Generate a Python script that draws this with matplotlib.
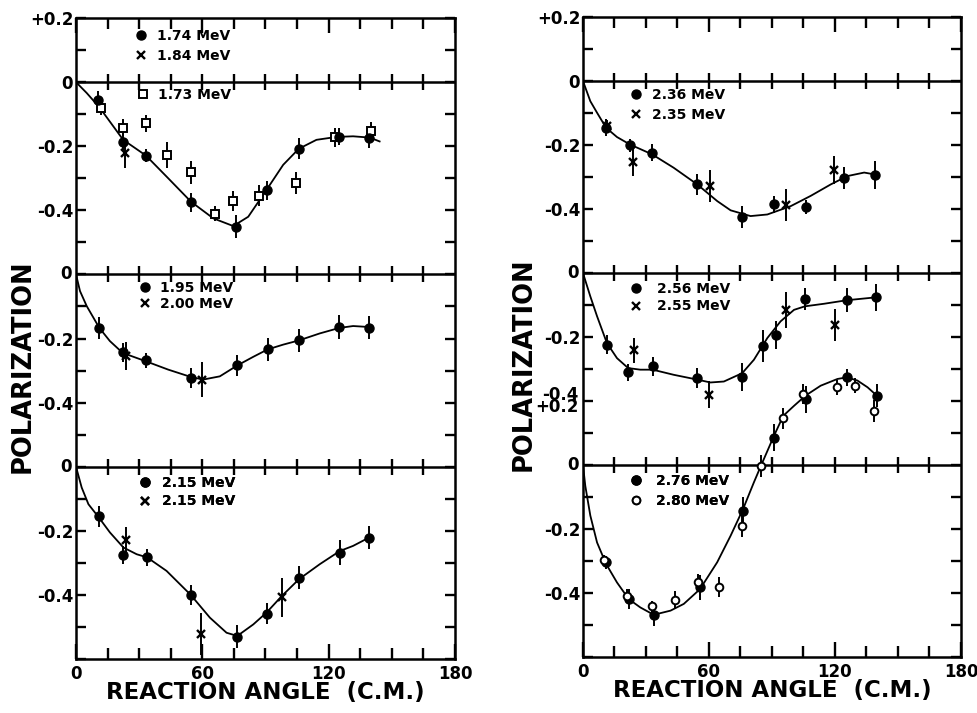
"""Polarization vs reaction angle (c.m.) -- stacked panels, two columns."""

import matplotlib

matplotlib.use("Agg")
import matplotlib.pyplot as plt  # noqa: E402
from matplotlib.lines import Line2D  # noqa: E402
from matplotlib.ticker import FixedLocator, FixedFormatter, MultipleLocator  # noqa: E402

plt.rcParams["font.family"] = ["DejaVu Sans"]
plt.rcParams["font.weight"] = "bold"

# ---------------------------------------------------------------- data
# angle in degrees (c.m.), polarization, half error bar

# left column, top panel
E174_ANG = [10.3, 22.2, 33.2, 54.6, 75.9, 90.5, 105.8, 125.0, 139.2]
E174_POL = [-0.055, -0.188, -0.229, -0.375, -0.451, -0.337, -0.208, -0.170, -0.173]
E174_ERR = [0.028, 0.025, 0.020, 0.030, 0.036, 0.030, 0.033, 0.026, 0.034]

E184_ANG = [23.3]
E184_POL = [-0.222]
E184_ERR = [0.045]

E173_ANG = [11.9, 22.1, 33.2, 43.3, 54.6, 66.0, 74.7, 87.0, 104.7, 122.9, 140.3]
E173_POL = [-0.081, -0.142, -0.129, -0.227, -0.281, -0.410, -0.371, -0.354, -0.314, -0.172, -0.154]
E173_ERR = [0.023, 0.026, 0.026, 0.040, 0.036, 0.023, 0.031, 0.034, 0.034, 0.029, 0.031]

FIT_A_ANG = [0, 5.1, 11.4, 22.4, 33.2, 43.8, 54.6, 65.2, 74.7, 81.8, 90.5, 98.4, 105.8,
             114.2, 123.7, 131.6, 139.5, 144.2]
FIT_A_POL = [0, -0.034, -0.081, -0.180, -0.229, -0.300, -0.373, -0.425, -0.449, -0.420,
             -0.336, -0.258, -0.208, -0.180, -0.171, -0.169, -0.173, -0.185]

# left column, middle panel
E195_ANG = [11.1, 22.2, 33.2, 54.6, 76.6, 91.0, 105.8, 125.0, 139.2]
E195_POL = [-0.167, -0.243, -0.268, -0.323, -0.284, -0.234, -0.206, -0.165, -0.167]
E195_ERR = [0.034, 0.030, 0.023, 0.030, 0.034, 0.036, 0.035, 0.037, 0.036]

E200_ANG = [23.8, 60.0]
E200_POL = [-0.255, -0.328]
E200_ERR = [0.044, 0.055]

FIT_B_ANG = [0, 1.9, 5.1, 11.1, 16.1, 22.2, 33.2, 43.8, 54.6, 60.4, 68.3, 76.6, 84.2,
             91.0, 98.4, 105.8, 115.8, 125.0, 131.6, 139.2]
FIT_B_POL = [0, -0.052, -0.099, -0.167, -0.208, -0.245, -0.271, -0.297, -0.320, -0.328,
             -0.318, -0.284, -0.257, -0.234, -0.219, -0.206, -0.184, -0.167, -0.161, -0.164]

# left column, bottom panel
E215_ANG = [10.8, 22.5, 33.8, 54.5, 76.6, 90.5, 105.9, 125.3, 139.2]
E215_POL = [-0.155, -0.275, -0.283, -0.400, -0.531, -0.458, -0.346, -0.268, -0.221]
E215_ERR = [0.034, 0.029, 0.026, 0.032, 0.036, 0.034, 0.036, 0.038, 0.035]

E215X_ANG = [23.8, 59.6, 97.8]
E215X_POL = [-0.229, -0.521, -0.408]
E215X_ERR = [0.040, 0.065, 0.062]

FIT_C_ANG = [0, 2.7, 5.9, 10.8, 16.1, 22.5, 28.8, 33.8, 43.0, 54.5, 63.6, 71.5, 76.6,
             84.2, 90.5, 97.8, 105.9, 115.8, 125.3, 131.6, 139.2]
FIT_C_POL = [0, -0.065, -0.117, -0.158, -0.205, -0.252, -0.273, -0.283, -0.325, -0.400,
             -0.471, -0.518, -0.528, -0.492, -0.455, -0.403, -0.351, -0.304, -0.263,
             -0.247, -0.221]

# right column, top panel
E236_ANG = [11.0, 22.3, 32.9, 54.4, 75.8, 91.0, 106.0, 124.3, 139.0]
E236_POL = [-0.146, -0.201, -0.224, -0.323, -0.425, -0.385, -0.394, -0.302, -0.294]
E236_ERR = [0.026, 0.020, 0.027, 0.034, 0.034, 0.026, 0.023, 0.034, 0.044]

E235_ANG = [11.4, 23.9, 60.3, 96.8, 119.6]
E235_POL = [-0.141, -0.253, -0.328, -0.388, -0.279]
E235_ERR = [0.020, 0.044, 0.050, 0.050, 0.044]

FIT_D_ANG = [0, 3.5, 6.7, 11.0, 16.2, 22.3, 32.9, 43.2, 54.4, 63.9, 70.3, 79.8, 87.8,
             98.9, 108.4, 118.0, 125.9, 133.9, 139.0]
FIT_D_POL = [0, -0.063, -0.099, -0.146, -0.175, -0.198, -0.229, -0.271, -0.323, -0.375,
             -0.404, -0.422, -0.417, -0.391, -0.359, -0.323, -0.297, -0.286, -0.292]

# right column, middle panel
E256_ANG = [11.4, 21.5, 33.2, 54.4, 75.8, 85.7, 91.7, 105.7, 125.6, 139.4]
E256_POL = [-0.224, -0.310, -0.292, -0.328, -0.325, -0.227, -0.193, -0.081, -0.085, -0.076]
E256_ERR = [0.029, 0.026, 0.031, 0.031, 0.044, 0.050, 0.044, 0.034, 0.037, 0.042]

E255_ANG = [24.2, 59.9, 96.5, 119.9]
E255_POL = [-0.242, -0.380, -0.115, -0.161]
E255_ERR = [0.040, 0.042, 0.057, 0.050]

FIT_E_ANG = [0, 3.5, 6.7, 11.4, 16.2, 21.5, 27.3, 33.2, 43.2, 54.4, 60.7, 67.1, 75.8,
             81.4, 87.8, 94.1, 100.5, 105.7, 114.8, 125.6, 139.4]
FIT_E_POL = [0, -0.073, -0.135, -0.219, -0.266, -0.297, -0.302, -0.302, -0.318, -0.333,
             -0.342, -0.339, -0.313, -0.271, -0.203, -0.151, -0.115, -0.104, -0.096,
             -0.085, -0.076]

# right column, bottom panel
E276_ANG = [11.0, 21.8, 33.7, 55.7, 76.2, 91.0, 106.0, 125.6, 139.9]
E276_POL = [-0.304, -0.419, -0.469, -0.382, -0.143, 0.086, 0.206, 0.274, 0.217]
E276_ERR = [0.020, 0.031, 0.034, 0.039, 0.042, 0.042, 0.042, 0.026, 0.036]

E280_ANG = [10.2, 21.0, 32.9, 43.6, 54.7, 64.7, 75.8, 84.9, 95.4, 104.8, 120.8, 129.4, 138.7]
E280_POL = [-0.296, -0.408, -0.442, -0.422, -0.365, -0.380, -0.190, -0.002, 0.146, 0.222,
            0.243, 0.248, 0.170]
E280_ERR = [0.015, 0.020, 0.018, 0.029, 0.026, 0.031, 0.034, 0.034, 0.032, 0.031, 0.023,
            0.023, 0.034]

FIT_F_ANG = [0, 1.1, 3.5, 6.7, 11.0, 16.2, 21.8, 27.3, 33.7, 41.7, 48.0, 55.7, 63.9,
             70.3, 76.2, 81.4, 84.9, 91.0, 95.4, 100.5, 106.0, 113.2, 121.2, 125.6, 130.7,
             135.5, 139.9]
FIT_F_POL = [0, -0.065, -0.158, -0.242, -0.309, -0.367, -0.419, -0.445, -0.468, -0.455,
             -0.434, -0.388, -0.304, -0.221, -0.138, -0.054, 0.0, 0.092, 0.154, 0.185,
             0.217, 0.248, 0.269, 0.274, 0.264, 0.243, 0.217]

# each panel is drawn on a shared column axis, shifted down by its offset
PANEL_SHIFT = [0.0, -0.6, -1.2]

ANGLE_TICKS = [0, 60, 120, 180]
POL_TICKS = [0.2, 0.0, -0.2, -0.4, -0.8, -1.0, -1.4, -1.6]
POL_TICK_LABELS = ["+0.2", "0", "-0.2", "-0.4", "-0.2", "-0.4", "-0.2", "-0.4"]

STYLES = {
    "dot": dict(marker="o", markersize=6.5, markerfacecolor="black", markeredgecolor="black"),
    "cross": dict(marker="x", markersize=6, markeredgewidth=1.7, markeredgecolor="black"),
    "square": dict(marker="s", markersize=5.5, markerfacecolor="white",
                   markeredgecolor="black", markeredgewidth=1.4),
    "ring": dict(marker="o", markersize=5.5, markerfacecolor="white",
                 markeredgecolor="black", markeredgewidth=1.4),
}

LEFT_PANELS = [
    dict(fit=(FIT_A_ANG, FIT_A_POL),
         series=[(E173_ANG, E173_POL, E173_ERR, "square"),
                 (E184_ANG, E184_POL, E184_ERR, "cross"),
                 (E174_ANG, E174_POL, E174_ERR, "dot")],
         keys=[dict(entries=[("dot", "1.74 MeV"), ("cross", "1.84 MeV")],
                    corner=(28.2, 0.165), spacing=0.43, pad=0.75),
               dict(entries=[("square", "1.73 MeV")],
                    corner=(29.2, -0.019), spacing=0.4, pad=0.65)]),
    dict(fit=(FIT_B_ANG, FIT_B_POL),
         series=[(E200_ANG, E200_POL, E200_ERR, "cross"),
                 (E195_ANG, E195_POL, E195_ERR, "dot")],
         keys=[dict(entries=[("dot", "1.95 MeV"), ("cross", "2.00 MeV")],
                    corner=(30.1, -0.019), spacing=0.2, pad=0.7)]),
    dict(fit=(FIT_C_ANG, FIT_C_POL),
         series=[(E215X_ANG, E215X_POL, E215X_ERR, "cross"),
                 (E215_ANG, E215_POL, E215_ERR, "dot")],
         keys=[dict(entries=[("dot", "2.15 MeV"), ("cross", "2.15 MeV")],
                    corner=(30.1, -0.028), spacing=0.34, pad=0.8)]),
]

RIGHT_PANELS = [
    dict(fit=(FIT_D_ANG, FIT_D_POL),
         series=[(E235_ANG, E235_POL, E235_ERR, "cross"),
                 (E236_ANG, E236_POL, E236_ERR, "dot")],
         keys=[dict(entries=[("dot", "2.36 MeV"), ("cross", "2.35 MeV")],
                    corner=(22.5, -0.021), spacing=0.43, pad=0.75)]),
    dict(fit=(FIT_E_ANG, FIT_E_POL),
         series=[(E255_ANG, E255_POL, E255_ERR, "cross"),
                 (E256_ANG, E256_POL, E256_ERR, "dot")],
         keys=[dict(entries=[("dot", "2.56 MeV"), ("cross", "2.55 MeV")],
                    corner=(22.5, -0.028), spacing=0.25, pad=1.1)]),
    dict(fit=(FIT_F_ANG, FIT_F_POL),
         series=[(E276_ANG, E276_POL, E276_ERR, "dot"),
                 (E280_ANG, E280_POL, E280_ERR, "ring")],
         keys=[dict(entries=[("dot", "2.76 MeV"), ("ring", "2.80 MeV")],
                    corner=(22.5, -0.029), spacing=0.41, pad=1.05)]),
]


def _shifted(values, shift):
    return [v + shift for v in values]


def _add_key(ax, key, shift):
    handles = [Line2D([], [], linestyle="none", **STYLES[s]) for s, _ in key["entries"]]
    labels = [t for _, t in key["entries"]]
    x0, y0 = key["corner"]
    leg = ax.legend(
        handles, labels, loc="upper left", bbox_to_anchor=(x0, y0 + shift),
        bbox_transform=ax.transData, frameon=False, borderpad=0, borderaxespad=0,
        handlelength=0.8, handletextpad=key["pad"], labelspacing=key["spacing"],
        prop=dict(weight="bold", size=10),
    )
    ax.add_artist(leg)


def _draw_column(ax, panels, ylabel_x):
    for shift, panel in zip(PANEL_SHIFT, panels):
        fit_ang, fit_pol = panel["fit"]
        ax.plot(fit_ang, _shifted(fit_pol, shift), color="black", linewidth=1.3, zorder=2)
        for ang, pol, err, style in panel["series"]:
            y = _shifted(pol, shift)
            ax.errorbar(ang, y, yerr=err, fmt="none", ecolor="black",
                        elinewidth=1.4, capsize=0, zorder=3)
            ax.plot(ang, y, linestyle="none", zorder=4, **STYLES[style])
        for key in panel["keys"]:
            _add_key(ax, key, shift)

    # zero line of every panel, with ticks crossing it
    inner_ticks = list(range(15, 180, 15))
    for shift in PANEL_SHIFT:
        ax.axhline(shift, color="black", linewidth=1.8, zorder=1)
        ax.plot(inner_ticks, [shift] * len(inner_ticks), linestyle="none", marker="|",
                markersize=12, markeredgewidth=1.7, color="black", zorder=1)

    ax.set_xlim(0, 180)
    ax.set_ylim(-1.8, 0.2)
    ax.xaxis.set_major_locator(FixedLocator(ANGLE_TICKS))
    ax.xaxis.set_minor_locator(MultipleLocator(15))
    ax.yaxis.set_major_locator(FixedLocator(POL_TICKS))
    ax.yaxis.set_major_formatter(FixedFormatter(POL_TICK_LABELS))
    ax.yaxis.set_minor_locator(MultipleLocator(0.1))
    ax.tick_params(which="both", direction="in", top=True, right=True,
                   width=1.7, color="black")
    ax.tick_params(axis="x", which="major", length=11, pad=4, labelsize=12)
    ax.tick_params(axis="x", which="minor", length=8)
    ax.tick_params(axis="y", which="both", length=7, pad=2, labelsize=12)
    for lab in ax.get_xticklabels() + ax.get_yticklabels():
        lab.set_fontweight("bold")
    for sp in ax.spines.values():
        sp.set_linewidth(1.8)

    ax.set_xlabel("REACTION ANGLE  (C.M.)", fontsize=16.5, fontweight="bold")
    ax.xaxis.set_label_coords(0.5, -0.053)
    ax.xaxis.label.set_va("center")
    ax.set_ylabel("POLARIZATION", fontsize=18.5, fontweight="bold")
    ax.yaxis.set_label_coords(ylabel_x, 0.457)
    ax.yaxis.label.set_va("center")


fig = plt.figure(figsize=(9.77, 7.13), dpi=100)
ax_left = fig.add_axes([0.0778, 0.0757, 0.3879, 0.899])
ax_right = fig.add_axes([0.5967, 0.0785, 0.3869, 0.8976])

_draw_column(ax_left, LEFT_PANELS, -0.142)
_draw_column(ax_right, RIGHT_PANELS, -0.156)

# right column: bottom panel's +0.2 falls on the middle panel's -0.4
right_labels = list(POL_TICK_LABELS)
right_labels[POL_TICKS.index(-1.0)] = ""
ax_right.yaxis.set_major_formatter(FixedFormatter(right_labels))
for txt, dy in (("-0.4", 4), ("+0.2", -4)):
    ax_right.annotate(txt, xy=(0, -1.0), xycoords=("axes fraction", "data"),
                      xytext=(-3, dy), textcoords="offset points", ha="right",
                      va="center", fontsize=12, fontweight="bold")

# zero of each lower panel
for ax in (ax_left, ax_right):
    for level in PANEL_SHIFT[1:]:
        ax.annotate("0", xy=(0, level), xycoords=("axes fraction", "data"),
                    xytext=(-3, 0), textcoords="offset points", ha="right",
                    va="center", fontsize=12, fontweight="bold")

fig.savefig("out.png", dpi=100, facecolor="white")
plt.close(fig)
